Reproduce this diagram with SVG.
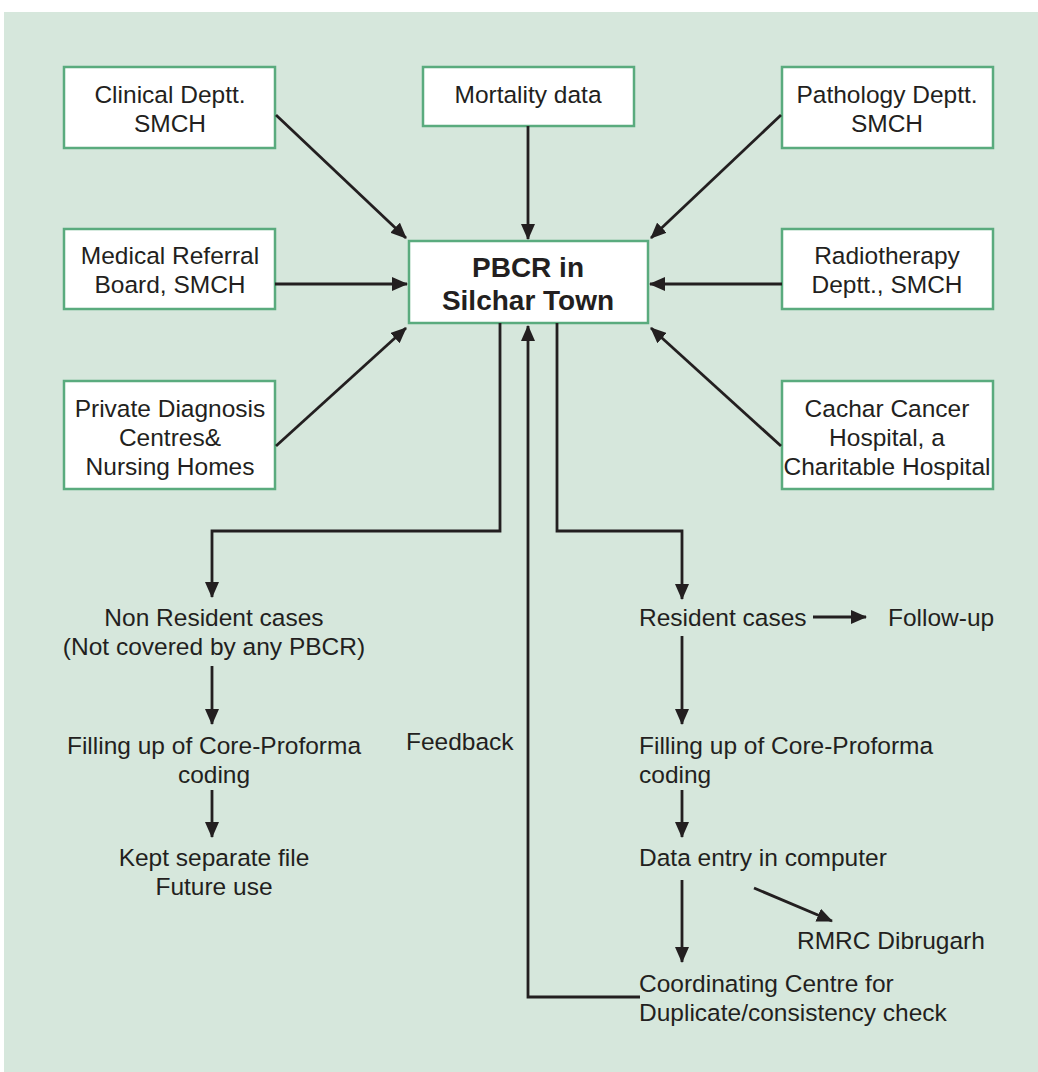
<svg xmlns="http://www.w3.org/2000/svg" width="1038" height="1072" viewBox="0 0 1038 1072">
<defs>
<marker id="ah" markerUnits="userSpaceOnUse" markerWidth="16" markerHeight="14" viewBox="0 0 16 14" refX="15" refY="7" orient="auto">
<path d="M0,0 L16,7 L0,14 Z" fill="#231f20"/>
</marker>
</defs>
<style>
.bg{fill:#d6e7dc}
.box{fill:#fff;stroke:#5aab7e;stroke-width:2.5}
.t{font-family:"Liberation Sans",Arial,sans-serif;font-size:24.5px;fill:#231f20}
.c{text-anchor:middle}
.b{font-weight:bold;font-size:28px}
.ln{fill:none;stroke:#231f20;stroke-width:2.8}
.ar{marker-end:url(#ah)}
</style>
<rect class="bg" x="4" y="12" width="1034" height="1060"/>

<g id="clinical"><rect class="box" x="64" y="67" width="211" height="81"/><text class="t c" x="170" y="103">Clinical Deptt.</text><text class="t c" x="170" y="132">SMCH</text></g>
<g id="mortality"><rect class="box" x="423" y="67" width="211" height="59"/><text class="t c" x="528" y="103">Mortality data</text></g>
<g id="pathology"><rect class="box" x="782" y="67" width="211" height="81"/><text class="t c" x="887" y="103">Pathology Deptt.</text><text class="t c" x="887" y="132">SMCH</text></g>
<g id="referral"><rect class="box" x="64" y="229" width="211" height="80"/><text class="t c" x="170" y="264">Medical Referral</text><text class="t c" x="170" y="293">Board, SMCH</text></g>
<g id="pbcr"><rect class="box" x="409" y="241" width="239" height="82"/><text class="t c b" x="528" y="277">PBCR in</text><text class="t c b" x="528" y="310">Silchar Town</text></g>
<g id="radiotherapy"><rect class="box" x="782" y="229" width="211" height="80"/><text class="t c" x="887" y="264">Radiotherapy</text><text class="t c" x="887" y="293">Deptt., SMCH</text></g>
<g id="private"><rect class="box" x="64" y="381" width="211" height="108"/><text class="t c" x="170" y="417">Private Diagnosis</text><text class="t c" x="170" y="446">Centres&amp;</text><text class="t c" x="170" y="475">Nursing Homes</text></g>
<g id="cachar"><rect class="box" x="782" y="381" width="211" height="108"/><text class="t c" x="887" y="417">Cachar Cancer</text><text class="t c" x="887" y="446">Hospital, a</text><text class="t c" x="887" y="475">Charitable Hospital</text></g>

<g id="nonresident"><text class="t c" x="214" y="626">Non Resident cases</text><text class="t c" x="214" y="655">(Not covered by any PBCR)</text></g>
<g id="fill-left"><text class="t c" x="214" y="754">Filling up of Core-Proforma</text><text class="t c" x="214" y="783">coding</text></g>
<g id="kept"><text class="t c" x="214" y="866">Kept separate file</text><text class="t c" x="214" y="895">Future use</text></g>
<g id="feedback"><text class="t" x="406" y="750">Feedback</text></g>
<g id="resident"><text class="t" x="639" y="626">Resident cases</text></g>
<g id="followup"><text class="t" x="888" y="626">Follow-up</text></g>
<g id="fill-right"><text class="t" x="639" y="754">Filling up of Core-Proforma</text><text class="t" x="639" y="783">coding</text></g>
<g id="dataentry"><text class="t" x="639" y="866">Data entry in computer</text></g>
<g id="rmrc"><text class="t" x="797" y="949">RMRC Dibrugarh</text></g>
<g id="coord"><text class="t" x="639" y="992">Coordinating Centre for</text><text class="t" x="639" y="1021">Duplicate/consistency check</text></g>

<g id="connectors">
<line class="ln ar" x1="276" y1="115" x2="406" y2="238"/>
<line class="ln ar" x1="528" y1="126" x2="528" y2="239"/>
<line class="ln ar" x1="781" y1="115" x2="651" y2="238"/>
<line class="ln ar" x1="275" y1="284" x2="407" y2="284"/>
<line class="ln ar" x1="782" y1="284" x2="650" y2="284"/>
<line class="ln ar" x1="276" y1="446" x2="406" y2="328"/>
<line class="ln ar" x1="781" y1="446" x2="651" y2="328"/>
<polyline class="ln ar" points="500,323 500,531 212,531 212,597"/>
<polyline class="ln ar" points="557,323 557,531 682,531 682,599"/>
<polyline class="ln ar" points="640,997 528,997 528,326"/>
<line class="ln ar" x1="813" y1="617" x2="866" y2="617"/>
<line class="ln ar" x1="682" y1="636" x2="682" y2="724"/>
<line class="ln ar" x1="682" y1="790" x2="682" y2="837"/>
<line class="ln ar" x1="682" y1="880" x2="682" y2="962"/>
<line class="ln ar" x1="754" y1="888" x2="832" y2="921"/>
<line class="ln ar" x1="212" y1="666" x2="212" y2="724"/>
<line class="ln ar" x1="212" y1="790" x2="212" y2="837"/>
</g>
</svg>
